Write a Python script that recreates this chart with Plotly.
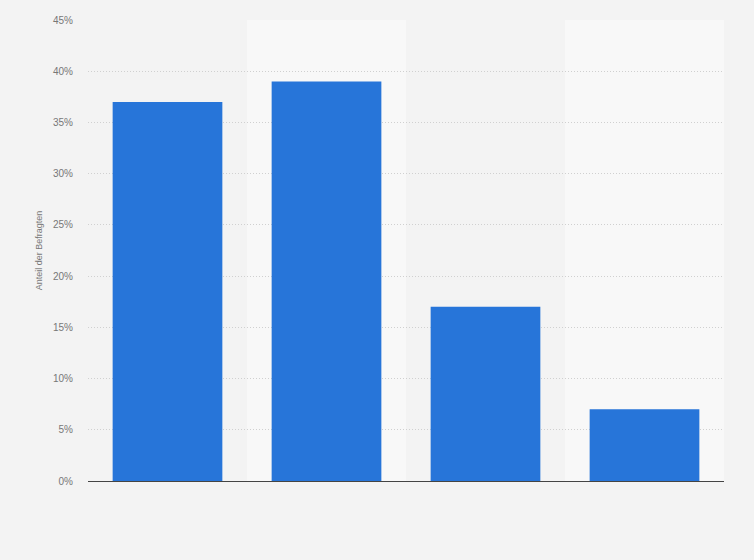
import plotly.graph_objects as go

categories = ['Kategorie 1', 'Kategorie 2', 'Kategorie 3', 'Kategorie 4']
values = [37, 39, 17, 7]
y_ticks = [0, 5, 10, 15, 20, 25, 30, 35, 40, 45]
y_ticktext = [f'{v}%' for v in y_ticks]

fig = go.Figure()

fig.add_trace(go.Bar(
    x=categories,
    y=values,
    marker=dict(color='#2775d9', line=dict(width=0)),
    hovertemplate='%{y}%<extra></extra>',
))

# lighter bands behind every second column
shapes = []
for i in range(1, len(categories), 2):
    shapes.append(dict(
        type='rect', xref='x', yref='paper',
        x0=i - 0.5, x1=i + 0.5, y0=0, y1=1,
        fillcolor='#f8f8f8', line=dict(width=0), layer='below',
    ))

fig.update_layout(
    width=754,
    height=560,
    margin=dict(l=88, r=30, t=20, b=79),
    paper_bgcolor='#f3f3f3',
    plot_bgcolor='#f3f3f3',
    font=dict(family='Liberation Sans, Arial, sans-serif', size=10, color='#777777'),
    bargap=0.31,
    showlegend=False,
    shapes=shapes,
    xaxis=dict(
        showticklabels=False,
        showgrid=False,
        showline=True,
        linecolor='#444444',
        linewidth=1.2,
        ticks='',
        range=[-0.5, 3.5],
    ),
    yaxis=dict(
        range=[0, 45],
        tickvals=y_ticks,
        ticktext=y_ticktext,
        showgrid=True,
        gridcolor='#d0d0d0',
        griddash='1px,2px',
        gridwidth=1,
        zeroline=False,
        ticks='',
        ticklabelstandoff=14,
        title=dict(text='Anteil der Befragten', font=dict(size=9, color='#777777'), standoff=8),
    ),
)

fig.write_html('out.html', config={'displayModeBar': False},
               post_script="document.body.style.margin='0';")
